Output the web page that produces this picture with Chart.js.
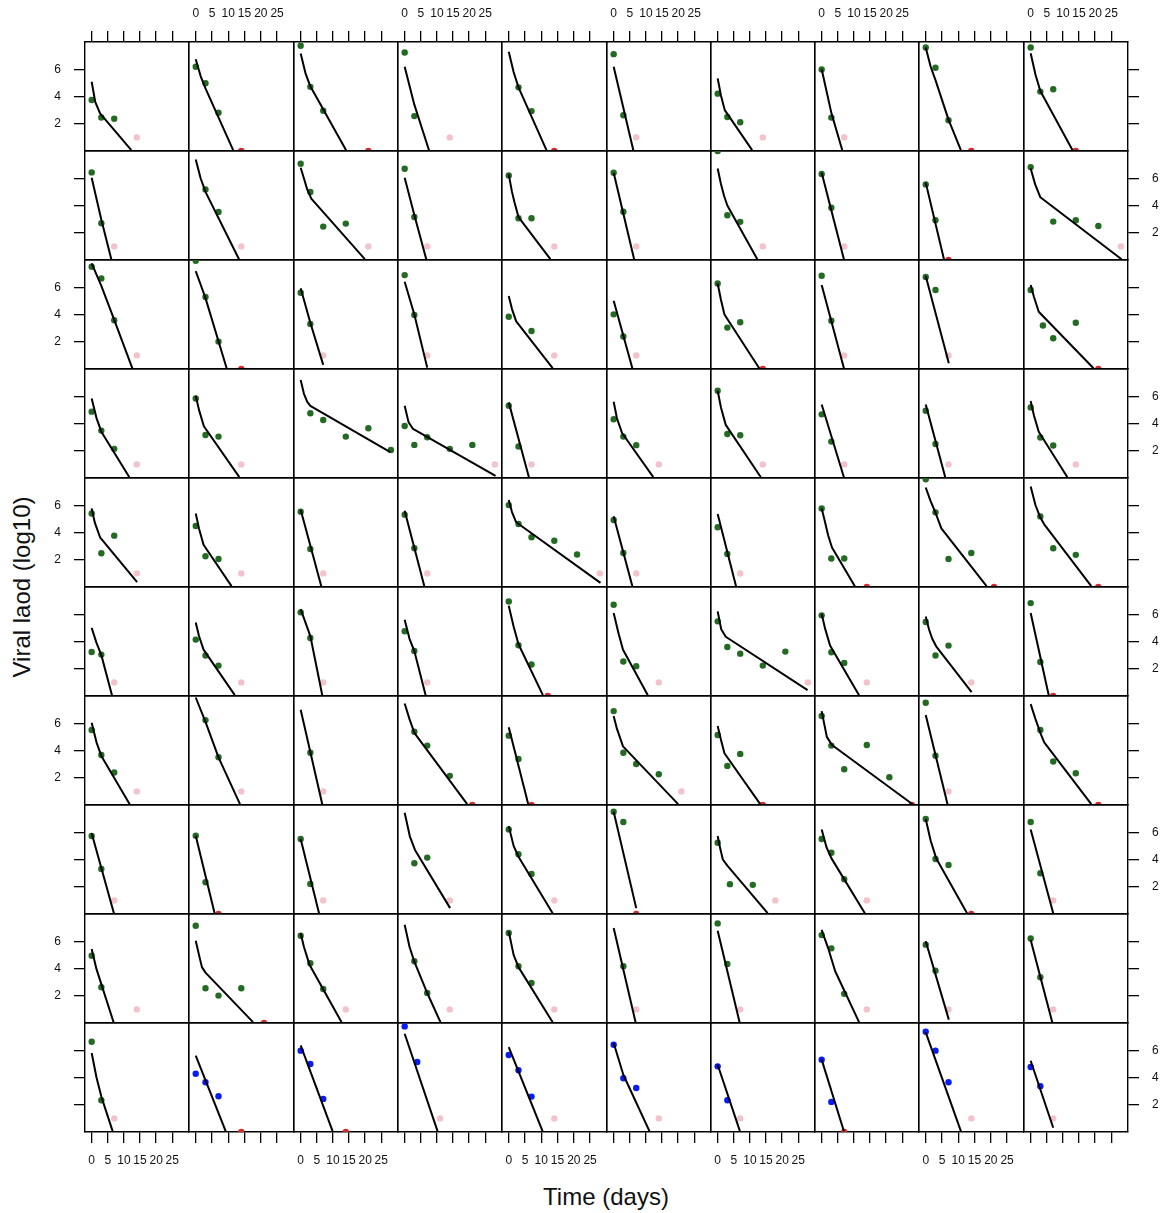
<!DOCTYPE html>
<html>
<head>
<meta charset="utf-8">
<script src="https://cdn.jsdelivr.net/npm/chart.js@4.4.1/dist/chart.umd.min.js"></script>
<style>
  body { margin: 0; background: #fff; }
  #plot { position: relative; width: 1165px; height: 1213px; overflow: hidden; background: #fff; }
  #plot canvas { position: absolute; }
  .axis-title { position: absolute; font-family: "Liberation Sans", Arial, sans-serif; font-size: 24px; color: #111; white-space: nowrap; }
  #xlab { left: 606px; top: 1197px; transform: translate(-50%, -50%); }
  #ylab { left: 22px; top: 587px; transform: translate(-50%, -50%) rotate(-90deg); }
</style>
</head>
<body>
<div id="plot">
  <div class="axis-title" id="ylab">Viral laod (log10)</div>
  <div class="axis-title" id="xlab">Time (days)</div>
</div>
<script>
// axes
let xTicks = [0, 5, 10, 15, 20, 25];
let yTicks = [2, 4, 6];
let xRange = [-2.07, 30.2];
let yRange = [0, 8];
let loqLevel = 1;   // below limit of quantification, shown at 1
let ndLevel = 0;    // not detected, shown at 0

// quantified viral load per patient panel, [day, log10 load], rows top to bottom
let measured = [
  // row 1
  [[0,3.74],[3,2.46],[7,2.37]], [[0,6.18],[3,4.98],[7,2.81]], [[0,7.72],[3,4.71],[7,2.95]], [[0,7.23],[3,2.56]], [[3,4.67],[7,2.93]],
  [[0,7.11],[3,2.62]], [[0,4.21],[3,2.5],[7,2.11]], [[0,5.99],[3,2.45]], [[0,7.6],[3,6.11],[7,2.26]], [[0,7.6],[3,4.36],[7,4.53]],
  // row 2
  [[0,6.43],[3,2.7]], [[3,5.18],[7,3.53]], [[0,7.06],[3,4.99],[7,2.45],[14,2.67]], [[0,6.7],[3,3.16]], [[0,6.21],[3,3.06],[7,3.06]],
  [[0,6.4],[3,3.55]], [[0,8.0],[3,3.28],[7,2.8]], [[0,6.31],[3,3.84]], [[0,5.55],[3,2.92]], [[0,6.82],[7,2.82],[14,2.92],[21,2.5]],
  // row 3
  [[0,7.5],[3,6.65],[7,3.58]], [[0,7.95],[3,5.28],[7,2.01]], [[0,5.6],[3,3.31]], [[0,6.89],[3,3.97]], [[0,3.84],[7,2.79]],
  [[0,4.01],[3,2.38]], [[0,6.28],[3,3.04],[7,3.43]], [[0,6.84],[3,3.55]], [[0,6.75],[3,5.8]], [[0,5.8],[3.8,3.19],[7,2.26],[14,3.4]],
  // row 4
  [[0,4.87],[3,3.48],[7,2.14]], [[0,5.84],[3,3.16],[7,3.04]], [[3,4.75],[7,4.26],[14,3.04],[21,3.65],[28,2.06]], [[0,3.82],[3,2.43],[7,2.99],[14,2.14],[21,2.43]], [[0,5.31],[3,2.31]],
  [[0,4.31],[3,3.04],[7,2.41]], [[0,6.4],[3,3.23],[7,3.14]], [[0,4.67],[3,2.67]], [[0,4.94],[3,2.5]], [[0,5.18],[3,2.97],[7,2.38]],
  // row 5
  [[0,5.4],[3,2.48],[7,3.77]], [[0,4.48],[3,2.26],[7,2.06]], [[0,5.53],[3,2.79]], [[0,5.31],[3,2.84]], [[0,6.01],[3,4.62],[7,3.65],[14,3.4],[21,2.38]],
  [[0,4.92],[3,2.5]], [[0,4.38],[3,2.43]], [[0,5.77],[3,2.09],[7,2.09]], [[0,7.9],[3,5.48],[7,2.06],[14,2.5]], [[3,5.18],[7,2.84],[14,2.36]],
  // row 6
  [[0,3.23],[3,3.04]], [[0,4.14],[3,2.97],[7,2.23]], [[0,6.14],[3,4.26]], [[0,4.75],[3,3.31]], [[0,6.94],[3,3.72],[7,2.31]],
  [[0,6.7],[3,2.53],[7,2.19]], [[0,5.48],[3,3.6],[7,3.11],[14,2.23],[21,3.26]], [[0,5.92],[3,3.21],[7,2.43]], [[0,5.43],[3,2.97],[7,3.7]], [[0,6.82],[3,2.5]],
  // row 7
  [[0,5.5],[3,3.67],[7,2.38]], [[3,6.23],[7,3.5]], [[3,3.84]], [[3,5.38],[7,4.36],[14,2.14]], [[0,5.09],[3,3.38]],
  [[0,6.89],[3,3.84],[7,3.01],[14,2.26]], [[0,5.14],[3,2.87],[7,3.75]], [[0,6.53],[3,4.36],[7,2.62],[14,4.4],[21,2.04]], [[0,7.5],[3,3.62]], [[3,5.5],[7,3.19],[14,2.33]],
  // row 8
  [[0,5.72],[3,3.31]], [[0,5.75],[3,2.33]], [[0,5.5],[3,2.21]], [[3,3.72],[7,4.14]], [[0,6.21],[3,4.38],[7,2.94]],
  [[0,7.5],[3,6.75]], [[0,5.23],[3.8,2.19],[10.9,2.14]], [[0,5.5],[3,4.5],[7,2.55]], [[0,6.97],[3,4.04],[7,3.6]], [[0,6.75],[3,2.99]],
  // row 9
  [[0,4.94],[3,2.62]], [[0,7.14],[3,2.55],[7,2.01],[14,2.55]], [[0,6.4],[3,4.38],[7,2.5]], [[3,4.53],[7,2.21]], [[0,6.6],[3,4.16],[7,2.94]],
  [[3,4.16]], [[0,7.31],[3,4.33]], [[0,6.45],[3,5.48],[7,2.14]], [[0,5.75],[3,3.84]], [[0,6.21],[3,3.36]],
  // row 10
  [[0,6.62],[3,2.33]], [[0,4.28],[3,3.65],[7,2.62]], [[0,5.97],[3,4.99],[7,2.43]], [[0,7.75],[3.9,5.14]], [[0,5.65],[3,4.53],[7,2.6]],
  [[0,6.4],[3,3.94],[7,3.23]], [[0,4.82],[3,2.33]], [[0,5.31],[3,2.21]], [[0,7.36],[3,5.97],[7,3.65]], [[0,4.77],[3,3.36]]
];

// day of the sample below the limit of quantification (pink), null if none
let belowLoq = [
  14, null, null, 14, null, 7, 14, 7, null, null,
  7, 14, 21, 7, 14, 7, 14, 7, null, 28,
  14, null, 7, 7, 14, 7, null, 7, 7, null,
  14, 14, null, 28, 7, 14, 14, 7, 7, 14,
  14, 14, 7, 7, 28, 7, 7, null, null, null,
  7, 14, 7, 7, null, 14, 28, 14, 14, null,
  14, 14, 7, null, null, 21, null, null, 7, null,
  7, null, 7, 14, 14, null, 17.9, 14, null, 7,
  14, null, 14, 14, 14, 7, 7, 14, 7, 7,
  7, null, null, 11, 14, 14, 7, null, 14, 7
];

// day of the not detected sample (red), null if none
let notDetected = [
  null, 14, 21, null, 14, null, null, null, 14, 14,
  null, null, null, null, null, null, null, null, 7, null,
  null, 14, null, null, null, null, 14, null, null, 21,
  null, null, null, null, null, null, null, null, null, null,
  null, null, null, null, null, null, null, 14, 21, 21,
  null, null, null, null, 12, null, null, null, null, 7,
  null, null, null, 21, 7, null, 14, 28, null, 21,
  null, 7, null, null, null, 7, null, null, 14, null,
  null, 21, null, null, null, null, null, null, null, null,
  null, 14, 14, null, null, null, null, 7, null, null
];

// fitted biphasic decline, [day, log10 load]
let fitted = [
  // row 1
  [[0,5.08],[1.1,3.6],[2.6,2.76],[12.3,0.06]], [[0,6.74],[1.5,5.5],[3,4.6],[11.5,0.06]], [[0,7.16],[1.5,5.7],[3,4.75],[14.1,0.06]], [[0,6.18],[3,3.4],[7.55,0.06]], [[0,7.28],[1.5,5.8],[3,4.67],[11.6,0.06]],
  [[0,6.19],[6.1,0.06]], [[0,5.33],[1,4.1],[2.2,3.0],[10.7,0.06]], [[0,6.0],[3,2.8],[6.4,0.06]], [[0,7.6],[1.5,6.2],[3,5.2],[7,2.3],[10.8,0.06]], [[0,7.17],[1.5,5.6],[3,4.4],[13,0.06]],
  // row 2
  [[0,6.04],[3,2.95],[6.1,0.06]], [[0,7.38],[1.5,6.0],[3,5.0],[13.3,0.06]], [[0,6.77],[1,6.0],[2,5.2],[3.3,4.5],[19.9,0.06]], [[0,6.04],[3,3.3],[6.7,0.06]], [[0,6.28],[1,5.0],[1.8,4.2],[3,3.15],[12.8,0.06]],
  [[0,6.4],[6.35,0.06]], [[0,6.72],[1,5.6],[2,4.7],[3,4.0],[12.3,0.06]], [[0,6.4],[6.9,0.06]], [[0,5.68],[5.6,0.06]], [[0,6.72],[1.4,5.55],[3,4.6],[28.2,0.06]],
  // row 3
  [[0,7.75],[3,6.1],[7,3.6],[12.6,0.06]], [[0,7.19],[1.5,6.2],[3,5.2],[9.5,0.06]], [[0,5.92],[3,3.4],[7,0.3]], [[0,6.4],[3,4.0],[7,0.1]], [[0,5.36],[1,4.4],[2.3,3.5],[13.5,0.06]],
  [[0,5.01],[5.8,0.06]], [[0,6.28],[1,5.1],[2.1,4.0],[12.9,0.06]], [[0,6.16],[6.9,0.06]], [[0,6.82],[7.1,0.43]], [[0,6.16],[1,5.3],[2.5,4.2],[19.5,0.06]],
  // row 4
  [[0,5.84],[1.5,4.4],[3,3.4],[11.7,0.06]], [[0,6.04],[1,5.0],[2.5,3.8],[13.4,0.06]], [[0,7.19],[1,6.2],[2,5.6],[3,5.3],[27.8,1.9]], [[0,5.31],[1.2,4.1],[2.6,3.6],[28.2,0.15]], [[0,5.55],[6.2,0.06]],
  [[0,5.6],[1,4.4],[2.6,3.3],[12.3,0.06]], [[0,6.4],[1,5.2],[2.5,3.9],[13.4,0.06]], [[0,5.4],[6.9,0.06]], [[0,5.4],[6.0,0.06]], [[0,5.65],[1,4.6],[2.5,3.4],[11.4,0.06]],
  // row 5
  [[0,5.77],[1,4.7],[2.6,3.65],[14.1,0.36]], [[0,5.4],[1,4.3],[2.4,3.1],[11,0.06]], [[0,5.67],[6.4,0.06]], [[0,5.6],[6.1,0.06]], [[0,6.38],[1,5.5],[2.3,4.75],[28.2,0.3]],
  [[0,5.2],[5.8,0.06]], [[0,5.36],[5.7,0.06]], [[0,5.77],[1,4.8],[2,3.8],[3.2,2.9],[10.3,0.06]], [[0,7.3],[1.5,6.3],[3,5.45],[4.8,4.3],[18.7,0.06]], [[0,7.38],[1.5,6.0],[3,5.1],[4.2,4.6],[18.8,0.06]],
  // row 6
  [[0,5.0],[1.5,3.9],[3,3.0],[6.3,0.06]], [[0,5.4],[1,4.4],[2.4,3.4],[12,0.06]], [[0,6.38],[3,4.4],[6.7,0.06]], [[0,5.6],[1.5,4.2],[3,3.3],[6.5,0.06]], [[0,6.62],[1.5,5.1],[3,3.8],[10.5,0.06]],
  [[0,6.09],[1.5,4.6],[2.9,3.4],[10.6,0.06]], [[0,6.21],[1.1,4.9],[2.5,4.35],[27.9,0.43]], [[0,6.04],[1,5.0],[2.6,3.7],[11.6,0.06]], [[0,5.84],[1,4.9],[2,4.2],[3.2,3.65],[14.1,0.28]], [[0,6.09],[5.6,0.06]],
  // row 7
  [[0,6.04],[1.5,4.6],[3,3.6],[11.8,0.06]], [[0,7.89],[3,6.1],[7,3.5],[13.6,0.06]], [[0,6.99],[6.7,0.06]], [[0,7.45],[1.5,6.3],[3,5.3],[19.4,0.06]], [[0,5.7],[6.0,0.06]],
  [[0,6.53],[1,5.6],[2.9,4.3],[20,0.06]], [[0,5.8],[1,4.8],[2.1,3.8],[13.2,0.06]], [[0,6.89],[1.6,5.0],[3.2,4.4],[28.2,0.06]], [[0,6.6],[6.7,0.06]], [[0,7.4],[1.5,6.3],[3,5.3],[4.2,4.6],[18.8,0.06]],
  // row 8
  [[0,5.92],[6.9,0.06]], [[0,5.75],[5.8,0.06]], [[0,5.5],[5.7,0.06]], [[0,7.43],[1.6,5.7],[3.2,4.7],[14.1,0.43]], [[0,6.45],[1.5,5.0],[3,4.2],[13.5,0.06]],
  [[0,7.5],[7,0.43]], [[0,5.72],[0.8,4.8],[1.6,4.0],[3,3.55],[15.5,0.06]], [[0,6.21],[1.5,4.9],[3,4.1],[13.4,0.06]], [[0,6.97],[1.5,5.4],[3.2,4.1],[12.7,0.06]], [[0,6.21],[7,0.06]],
  // row 9
  [[0,5.43],[1.5,3.95],[3,2.85],[6.8,0.06]], [[0,6.04],[1,5.0],[1.9,4.1],[3,3.7],[17.6,0.06]], [[0,6.58],[1,5.6],[2.7,4.3],[12.7,0.06]], [[0,7.21],[1.5,5.6],[3,4.5],[7,2.2],[11.1,0.06]], [[0,6.72],[1.5,5.0],[3,4.1],[13.5,0.06]],
  [[0,6.97],[6.8,0.06]], [[0,6.77],[6.8,0.06]], [[0,6.84],[2,5.5],[4.2,3.8],[11.6,0.06]], [[0,6.0],[7.1,0.25]], [[0,6.09],[6.7,0.06]],
  // row 10
  [[0,5.8],[1.5,4.0],[3,2.6],[6.5,0.06]], [[0,5.6],[9.2,0.06]], [[0,6.36],[9.9,0.06]], [[0,7.21],[10.2,0.06]], [[0,6.23],[10.4,0.06]],
  [[0,6.53],[3,4.2],[11.1,0.06]], [[0,4.94],[6.9,0.06]], [[0,5.31],[6.9,0.06]], [[0,7.31],[10.8,0.06]], [[0,5.23],[7,0.31]]
];

// patients of the second arm (blue)
let armB = [91, 92, 93, 94, 95, 96, 97, 98, 99];

// layout
let nCols = 10, nRows = 10;
let panelX0 = 85, panelW = 104.3;
let panelY0 = 41.7, panelH = 109;
let margin = 45;
let ink = '#000';
let tickFont = { family: '"Liberation Sans", Arial, sans-serif', size: 12 };

let toPoints = function(pairs) {
  return pairs.map(function(d) { return { x: d[0], y: d[1] }; });
};

let makeScale = function(pos, range, tickValues, showTicks, showLabels) {
  let horizontal = (pos == 'top' || pos == 'bottom');
  return {
    type: 'linear',
    position: pos,
    min: range[0],
    max: range[1],
    afterBuildTicks: function(scale) { scale.ticks = tickValues.map(function(v) { return { value: v }; }); },
    afterFit: function(scale) { if (horizontal) { scale.height = margin; } else { scale.width = margin; } },
    border: { display: true, color: ink, width: 1.4 },
    grid: { display: showTicks, drawOnChartArea: false, drawTicks: true, tickLength: 11, color: ink, lineWidth: 1.3 },
    ticks: { display: showLabels, autoSkip: false, maxRotation: 0, minRotation: 0, padding: horizontal ? 10 : 13, color: '#111', font: tickFont }
  };
};

let drawPanel = function(r, c) {
  let p = r * nCols + c;
  let left = Math.round(panelX0 + c * panelW);
  let right = Math.round(panelX0 + (c + 1) * panelW);
  let top = Math.round(panelY0 + r * panelH);
  let bottom = Math.round(panelY0 + (r + 1) * panelH);

  let canvas = document.createElement('canvas');
  canvas.width = right - left + 2 * margin;
  canvas.height = bottom - top + 2 * margin;
  canvas.style.left = (left - margin) + 'px';
  canvas.style.top = (top - margin) + 'px';
  document.getElementById('plot').appendChild(canvas);

  let obsColor = armB.indexOf(p) >= 0 ? '#0a1cf5' : '#236b23';
  let datasets = [{
    data: toPoints(fitted[p]),
    showLine: true,
    borderColor: ink,
    borderWidth: 2,
    pointRadius: 0,
    tension: 0,
    borderJoinStyle: 'round',
    clip: 0,
    order: 0
  }, {
    data: toPoints(measured[p]),
    backgroundColor: obsColor,
    pointRadius: 3.2,
    borderWidth: 0,
    clip: 0,
    order: 1
  }];
  if (belowLoq[p] !== null) {
    datasets.push({ data: [{ x: belowLoq[p], y: loqLevel }], backgroundColor: '#f3c3cc', pointRadius: 3.2, borderWidth: 0, clip: 0, order: 2 });
  }
  if (notDetected[p] !== null) {
    datasets.push({ data: [{ x: notDetected[p], y: ndLevel }], backgroundColor: '#d42a2a', pointRadius: 3.2, borderWidth: 0, clip: 0, order: 2 });
  }

  new Chart(canvas, {
    type: 'scatter',
    data: { datasets: datasets },
    options: {
      responsive: false,
      animation: false,
      events: [],
      layout: { padding: 0 },
      plugins: { legend: { display: false }, tooltip: { enabled: false } },
      scales: {
        x: makeScale('bottom', xRange, xTicks, r == nRows - 1, r == nRows - 1 && c % 2 == 0),
        x2: makeScale('top', xRange, xTicks, r == 0, r == 0 && c % 2 == 1),
        y: makeScale('left', yRange, yTicks, c == 0, c == 0 && r % 2 == 0),
        y2: makeScale('right', yRange, yTicks, c == nCols - 1, c == nCols - 1 && r % 2 == 1)
      }
    }
  });
};

for (let r = 0; r < nRows; r++) {
  for (let c = 0; c < nCols; c++) {
    drawPanel(r, c);
  }
}
</script>
</body>
</html>
